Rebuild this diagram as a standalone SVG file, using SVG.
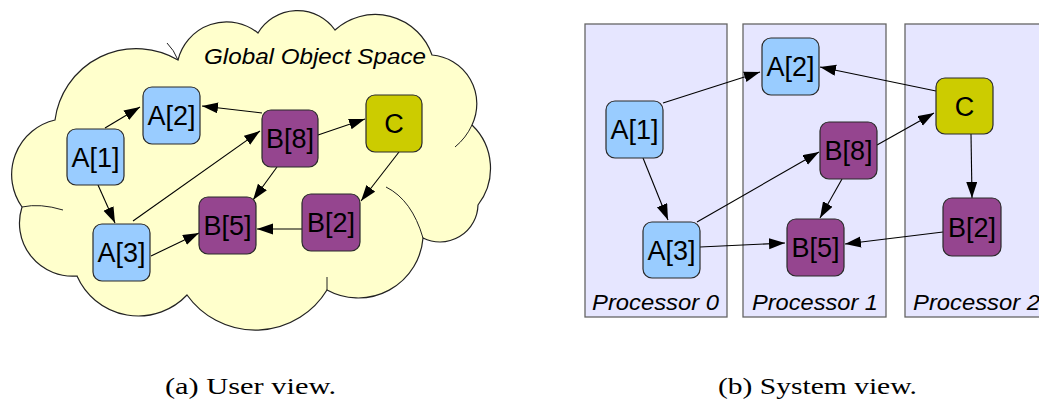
<svg xmlns="http://www.w3.org/2000/svg" width="1039" height="400" viewBox="0 0 1039 400">
<style>
.node rect{stroke:#2a2a2a;stroke-width:1.2}
.a rect{fill:#99ccff}
.b rect{fill:#95458f}
.c rect{fill:#cccc00}
.lbl{font-family:"Liberation Sans",Arial,sans-serif;font-size:27px;fill:#000;text-anchor:middle}
.it{font-family:"Liberation Sans",Arial,sans-serif;font-size:22px;font-style:italic;fill:#000}
.cap{font-family:"Liberation Serif","Times New Roman",serif;font-size:24px;fill:#000}
.proc{fill:#e6e6ff;stroke:#666;stroke-width:1.3}
#connectors line{stroke:#000;stroke-width:1.1;fill:none;marker-end:url(#ah)}
.cloudin{fill:none;stroke:#222;stroke-width:1}
</style>
<defs>
<marker id="ah" markerUnits="userSpaceOnUse" markerWidth="17" markerHeight="12" refX="16" refY="5.5" orient="auto">
<path d="M0,0 L16,5.5 L0,11 z" fill="#000"/>
</marker>
</defs>
<rect width="1039" height="400" fill="#fff"/>

<g id="cloud">
<path d="M55,120 A82,82 0 0 1 178,60 A50,50 0 0 1 258,33 A46,46 0 0 1 335,30 A60,60 0 0 1 432,55 A49,49 0 0 1 472,125 A60,60 0 0 1 478,205 A38,38 0 0 1 423,238 A65,65 0 0 1 327,290 A84,84 0 0 1 187,295 A67,67 0 0 1 77,276 A53,53 0 0 1 22,207 A56,56 0 0 1 55,120 Z" fill="#ffffcc" stroke="#222" stroke-width="1.2"/>
<path class="cloudin" d="M386,187 Q412,200 423,238"/>
<path class="cloudin" d="M63,210 Q40,203 22,207"/>
<path class="cloudin" d="M167,43 Q174,50 178,60"/>
<path class="cloudin" d="M455,147 Q466,138 472,125"/>
<path class="cloudin" d="M327,277 L327,290"/>
<text class="it" x="204" y="64" textLength="222" lengthAdjust="spacingAndGlyphs">Global Object Space</text>
</g>

<g id="proc0"><rect class="proc" x="585" y="24" width="142" height="293"/><text class="it" x="592" y="310" textLength="127" lengthAdjust="spacingAndGlyphs">Processor 0</text></g>
<g id="proc1"><rect class="proc" x="743" y="24" width="143" height="293"/><text class="it" x="752" y="310" textLength="126" lengthAdjust="spacingAndGlyphs">Processor 1</text></g>
<g id="proc2"><rect class="proc" x="905" y="24" width="145" height="293"/><text class="it" x="913" y="310" textLength="127" lengthAdjust="spacingAndGlyphs">Processor 2</text></g>

<g id="connectors">
<line x1="105" y1="128" x2="140" y2="107"/>
<line x1="98" y1="185" x2="115" y2="223"/>
<line x1="133" y1="221" x2="260" y2="131"/>
<line x1="151" y1="256" x2="199" y2="233"/>
<line x1="262" y1="113" x2="202" y2="106"/>
<line x1="318" y1="135" x2="365" y2="119"/>
<line x1="277" y1="167" x2="253" y2="200"/>
<line x1="399" y1="152" x2="361" y2="201"/>
<line x1="302" y1="229" x2="257" y2="229"/>
<line x1="663" y1="103" x2="760" y2="72"/>
<line x1="643" y1="158" x2="668" y2="220"/>
<line x1="697" y1="222" x2="819" y2="152"/>
<line x1="700" y1="247" x2="785" y2="243"/>
<line x1="936" y1="91" x2="820" y2="67"/>
<line x1="877" y1="145" x2="934" y2="113"/>
<line x1="842" y1="179" x2="820" y2="218"/>
<line x1="971" y1="134" x2="972" y2="198"/>
<line x1="943" y1="232" x2="845" y2="244"/>
</g>

<g id="uA2" class="node a"><rect x="143" y="87" width="57" height="57" rx="9"/><text class="lbl" x="171.5" y="125">A[2]</text></g>
<g id="uA1" class="node a"><rect x="67" y="129" width="57" height="56" rx="9"/><text class="lbl" x="95.5" y="166.5">A[1]</text></g>
<g id="uA3" class="node a"><rect x="93" y="224" width="57" height="57" rx="9"/><text class="lbl" x="121.5" y="262">A[3]</text></g>
<g id="uB8" class="node b"><rect x="262" y="110" width="56" height="57" rx="9"/><text class="lbl" x="290" y="148">B[8]</text></g>
<g id="uC" class="node c"><rect x="366" y="95" width="56" height="57" rx="9"/><text class="lbl" x="394" y="133">C</text></g>
<g id="uB5" class="node b"><rect x="199" y="197" width="57" height="57" rx="9"/><text class="lbl" x="227.5" y="235">B[5]</text></g>
<g id="uB2" class="node b"><rect x="302" y="194" width="58" height="57" rx="9"/><text class="lbl" x="331" y="232">B[2]</text></g>

<g id="sA2" class="node a"><rect x="762" y="38" width="57" height="57" rx="9"/><text class="lbl" x="790.5" y="76">A[2]</text></g>
<g id="sA1" class="node a"><rect x="606" y="101" width="57" height="57" rx="9"/><text class="lbl" x="634.5" y="139">A[1]</text></g>
<g id="sA3" class="node a"><rect x="643" y="222" width="57" height="56" rx="9"/><text class="lbl" x="671.5" y="259.5">A[3]</text></g>
<g id="sB8" class="node b"><rect x="820" y="122" width="57" height="57" rx="9"/><text class="lbl" x="848.5" y="160">B[8]</text></g>
<g id="sB5" class="node b"><rect x="787" y="219" width="57" height="57" rx="9"/><text class="lbl" x="815.5" y="257">B[5]</text></g>
<g id="sC" class="node c"><rect x="936" y="78" width="57" height="56" rx="9"/><text class="lbl" x="964.5" y="115.5">C</text></g>
<g id="sB2" class="node b"><rect x="943" y="198" width="58" height="58" rx="9"/><text class="lbl" x="972" y="236.5">B[2]</text></g>

<text class="cap" x="165" y="394" textLength="171" lengthAdjust="spacingAndGlyphs">(a) User view.</text>
<text class="cap" x="718" y="394" textLength="199" lengthAdjust="spacingAndGlyphs">(b) System view.</text>
</svg>
